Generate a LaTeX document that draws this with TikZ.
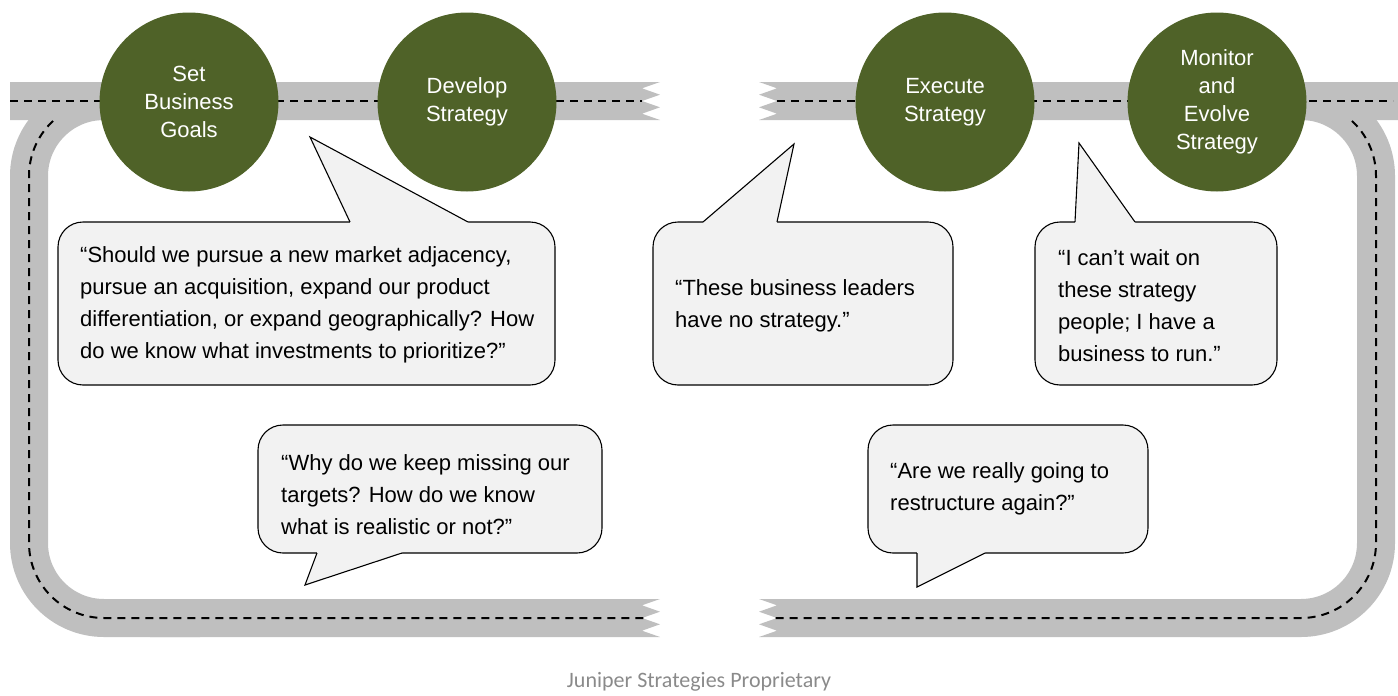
\documentclass[tikz,border=0pt]{standalone}
\usepackage{fontspec}
\setmainfont{Liberation Sans}
\newfontfamily\footfont{Carlito}
\definecolor{roadgray}{HTML}{BFBFBF}
\definecolor{stagegreen}{HTML}{4F6228}
\definecolor{bubblefill}{HTML}{F2F2F2}
\definecolor{footgray}{HTML}{8A8A8A}
\begin{document}
\begin{tikzpicture}[x=1pt,y=-1pt,
  road/.style={draw=roadgray, line width=38pt},
  band/.style={fill=roadgray},
  lane/.style={draw=black, line width=2pt, dash pattern=on 8pt off 6pt},
  stage/.style={circle, fill=stagegreen, text=white, minimum size=179pt,
    inner sep=0pt, align=center, font=\fontsize{22}{28}\selectfont},
  bubble/.style={draw=black, line width=1.1pt, fill=bubblefill, rounded corners=25pt},
  tail/.style={draw=black, line width=1.1pt, line join=miter},
  quote/.style={align=left, inner sep=0pt, font=\fontsize{22}{32}\selectfont, anchor=west}]
\useasboundingbox (0,0) rectangle (1398,696);

% curved sections of the loop road
\draw[road, rounded corners=75pt] (104,101) -- (29,101) -- (29,618) -- (200,618);
\draw[road, rounded corners=75pt] (1301,101) -- (1376,101) -- (1376,618) -- (1200,618);

% bottom straight sections with torn ends
\fill[band] (150,599) -- (660,599) -- (642,605.3) -- (660,611.7) -- (642,618) -- (660,624.3)
  -- (642,630.7) -- (660,637) -- (150,637) -- cycle;
\fill[band] (759,599) -- (1250,599) -- (1250,637) -- (759,637) -- (777,630.7) -- (759,624.3)
  -- (777,618) -- (759,611.7) -- (777,605.3) -- cycle;

% centre lines of the loop
\draw[lane, rounded corners=75pt] (104,101) -- (29,101) -- (29,618) -- (648,618);
\draw[lane, rounded corners=75pt] (1301,101) -- (1376,101) -- (1376,618) -- (773,618);

% top straight sections with torn ends
\fill[band] (10,82) -- (660,82) -- (642,88.3) -- (660,94.7) -- (642,101) -- (660,107.3)
  -- (642,113.7) -- (660,120) -- (10,120) -- cycle;
\fill[band] (759,82) -- (1398,82) -- (1398,120) -- (759,120) -- (777,113.7) -- (759,107.3)
  -- (777,101) -- (759,94.7) -- (777,88.3) -- cycle;
\draw[lane] (10,101) -- (642,101);
\draw[lane] (777,101) -- (1393,101);

% stages
\node[stage] (goals)   at (189,102)  {Set\\Business\\Goals};
\node[stage] (develop) at (467,102)  {Develop\\Strategy};
\node[stage] (execute) at (945,102)  {Execute\\Strategy};
\node[stage] (monitor) at (1217,102) {Monitor\\and\\Evolve\\Strategy};

% speech bubbles
\draw[bubble] (58,222) rectangle (555,385);
\draw[bubble] (653,222) rectangle (953,385);
\draw[bubble] (1035,222) rectangle (1277,385);
\draw[bubble] (258,425) rectangle (602,553);
\draw[bubble] (868,425) rectangle (1148,553);

% bubble tails
\coordinate (a1) at (350,222); \coordinate (a2) at (468,222); \coordinate (at) at (310,137);
\coordinate (b1) at (703,222); \coordinate (b2) at (777,222); \coordinate (bt) at (794,144);
\coordinate (c1) at (1075,222); \coordinate (c2) at (1135,222); \coordinate (ct) at (1079,143);
\coordinate (d1) at (317,553); \coordinate (d2) at (402,553); \coordinate (dt) at (305,585);
\coordinate (e1) at (917,553); \coordinate (e2) at (985,553); \coordinate (et) at (917,587);

\fill[bubblefill] (a1) -- (at) -- (a2) -- (468,224) -- (350,224) -- cycle;
\fill[bubblefill] (b1) -- (bt) -- (b2) -- (777,224) -- (703,224) -- cycle;
\fill[bubblefill] (c1) -- (ct) -- (c2) -- (1135,224) -- (1075,224) -- cycle;
\fill[bubblefill] (d1) -- (dt) -- (d2) -- (402,551) -- (317,551) -- cycle;
\fill[bubblefill] (e1) -- (et) -- (e2) -- (985,551) -- (917,551) -- cycle;
\draw[tail] (a1) -- (at) -- (a2);
\draw[tail] (b1) -- (bt) -- (b2);
\draw[tail] (c1) -- (ct) -- (c2);
\draw[tail] (d1) -- (dt) -- (d2);
\draw[tail] (e1) -- (et) -- (e2);

% quotes
\node[quote] (q1) at (80,305) {“Should we pursue a new market adjacency,\\pursue an acquisition, expand our product\\differentiation, or expand geographically? How\\do we know what investments to prioritize?”};
\node[quote] (q2) at (675,306) {“These business leaders\\have no strategy.”};
\node[quote] (q3) at (1058,306) {“I can’t wait on\\these strategy\\people; I have a\\business to run.”};
\node[quote] (q4) at (281,495) {“Why do we keep missing our\\targets? How do we know\\what is realistic or not?”};
\node[quote] (q5) at (890,489) {“Are we really going to\\restructure again?”};

% footer
\node[font=\footfont\fontsize{22}{24}\selectfont, text=footgray] (foot) at (699,682) {Juniper Strategies Proprietary};
\end{tikzpicture}
\end{document}
